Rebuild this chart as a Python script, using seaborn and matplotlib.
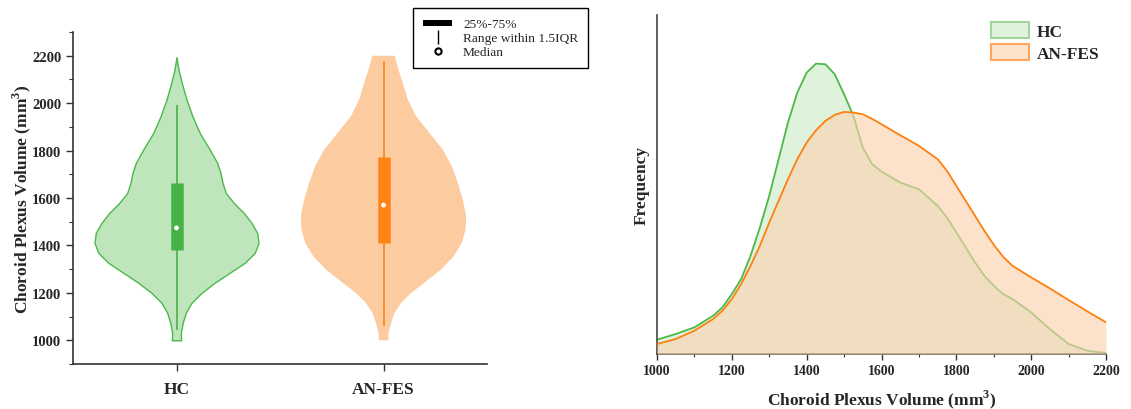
import numpy as np
import matplotlib
matplotlib.use("Agg")
import matplotlib.pyplot as plt
import seaborn as sns
from matplotlib.lines import Line2D
from matplotlib.patches import Patch
from matplotlib.ticker import MultipleLocator

# groups
grupos = ["HC", "AN-FES"]

# violin outlines: volume (mm3) and half width (px)
hc_vol = [1000, 1032, 1074, 1116, 1158, 1200, 1243, 1285, 1327, 1369, 1411, 1453,
          1495, 1537, 1579, 1621, 1664, 1706, 1748, 1804, 1874, 1944, 2015, 2085,
          2141, 2194]
hc_ancho = [4.6, 4.4, 6.2, 9.3, 15, 25, 38.3, 53.3, 68.3, 78.3, 82, 80.7,
            75, 67.3, 57.3, 49.3, 46, 44, 40.7, 33.3, 23.3, 16, 10, 5.3,
            2, 0]
an_vol = [1000, 1032, 1074, 1116, 1158, 1200, 1243, 1299, 1355, 1411, 1467, 1523,
          1593, 1664, 1734, 1804, 1874, 1944, 2015, 2085, 2141, 2200]
an_ancho = [4.7, 5.0, 7.7, 11, 17.7, 27.7, 41, 57.7, 70.3, 78.3, 82, 82.7,
            79.3, 74.3, 68.3, 59.3, 46, 32.7, 24.3, 19.3, 15, 11.2]

# box statistics
cuartil1 = [1380, 1410]
mediana = [1474, 1570]
cuartil3 = [1665, 1772]
bigote_min = [1043, 1060]
bigote_max = [1994, 2179]

# density curves (relative height)
dens_x = [1000, 1050, 1100, 1150, 1175, 1200, 1225, 1250, 1275, 1300, 1325, 1350,
          1375, 1400, 1425, 1450, 1475, 1500, 1525, 1550, 1575, 1600, 1650, 1700,
          1750, 1775, 1800, 1825, 1850, 1875, 1900, 1925, 1950, 2000, 2050, 2100,
          2150, 2200]
dens_hc = [43, 60, 80, 115, 140, 180, 225, 295, 380, 475, 585, 695,
           785, 845, 872, 870, 840, 780, 715, 620, 570, 548, 515, 495,
           445, 410, 365, 320, 275, 235, 205, 180, 165, 125, 75, 30,
           10, 3]
dens_an = [30, 45, 70, 105, 130, 165, 210, 265, 325, 395, 460, 525,
           585, 635, 672, 700, 718, 727, 725, 720, 706, 690, 657, 625,
           585, 550, 505, 460, 415, 370, 328, 292, 265, 230, 197, 162,
           128, 95]

verde = "#4cb84a"
verde_claro = "#bfe5bd"
naranja = "#ff7f0e"
naranja_claro = "#fccba0"

sns.set_style("ticks")
plt.rcParams["font.family"] = ["Liberation Serif", "DejaVu Serif"]
plt.rcParams["mathtext.fontset"] = "custom"
plt.rcParams["mathtext.rm"] = "Liberation Serif"
plt.rcParams["mathtext.bf"] = "Liberation Serif:bold"

fig = plt.figure(figsize=(11.31, 4.10), dpi=100)
ax1 = fig.add_axes([73 / 1131, 1 - 365 / 410, 414 / 1131, 332 / 410])
ax2 = fig.add_axes([657 / 1131, 1 - 355 / 410, 449 / 1131, 339 / 410])

# ---- violins ----
px_por_unidad = 207.0
perfiles = [(hc_vol, hc_ancho), (an_vol, an_ancho)]
rellenos = [verde_claro, naranja_claro]
bordes = [verde, "none"]
oscuros = ["#46b246", "#ff8418"]
for i, (vol, ancho) in enumerate(perfiles):
    w = np.array(ancho) / px_por_unidad
    ax1.fill_betweenx(vol, i - w, i + w, facecolor=rellenos[i],
                      edgecolor=bordes[i], linewidth=1.0, zorder=1)
    ax1.vlines(i, bigote_min[i], bigote_max[i], color=oscuros[i], lw=1.2, zorder=2)
    ax1.vlines(i, cuartil1[i], cuartil3[i], color=oscuros[i], lw=9,
               zorder=3, capstyle="butt")
sns.scatterplot(x=[0, 1], y=mediana, ax=ax1, color="white", s=12,
                edgecolor="none", zorder=4, legend=False)

ax1.set_xlim(-0.5, 1.5)
ax1.set_ylim(900, 2300)
ax1.set_xticks([0, 1])
ax1.set_xticklabels(grupos, fontsize=12.5, fontweight="bold")
ax1.yaxis.set_minor_locator(MultipleLocator(100))
ax1.set_yticks(range(1000, 2201, 200))
for t in ax1.get_yticklabels():
    t.set_fontweight("bold")
    t.set_fontsize(10.5)
ax1.set_ylabel("Choroid Plexus Volume (mm$^\\mathbf{3}$)", fontsize=12.5,
               fontweight="bold", labelpad=-1)
ax1.tick_params(axis="y", which="major", length=5, width=1, color="#333333")
ax1.tick_params(axis="y", which="minor", length=3, width=0.8, color="#333333")
ax1.tick_params(axis="x", length=5, width=1, color="#333333", pad=7)
for s in ["top", "right"]:
    ax1.spines[s].set_visible(False)
for s in ["left", "bottom"]:
    ax1.spines[s].set_color("#333333")
    ax1.spines[s].set_linewidth(1.2)

manejadores = [
    Line2D([], [], color="black", lw=4.3, solid_capstyle="butt"),
    Line2D([], [], color="black", marker="|", markersize=10, linestyle="none"),
    Line2D([], [], color="black", marker="o", markersize=4.5, markerfacecolor="white",
           markeredgewidth=1.5, linestyle="none"),
]
fig.legend(manejadores, ["25%-75%", "Range within 1.5IQR", "Median"],
           loc="upper left", bbox_to_anchor=(413 / 1131, 1 - 9 / 410),
           fontsize=9.6, frameon=True, fancybox=False, edgecolor="black",
           framealpha=1, handlelength=2.2, labelspacing=0.12,
           borderpad=0.75, handletextpad=0.8, borderaxespad=0)

# ---- density ----
sns.lineplot(x=dens_x, y=dens_hc, ax=ax2, color=verde, lw=1.3, zorder=2)
ax2.fill_between(dens_x, 0, dens_hc, color="#dff2dc", lw=0, zorder=1)
ax2.fill_between(dens_x, 0, dens_an, color="#fcd2ae", alpha=0.63, lw=0, zorder=3)
sns.lineplot(x=dens_x, y=dens_an, ax=ax2, color=naranja, lw=1.3, zorder=4)

ax2.set_xlim(1000, 2200)
ax2.set_ylim(0, 1018)
ax2.set_yticks([])
ax2.xaxis.set_major_locator(MultipleLocator(200))
ax2.xaxis.set_minor_locator(MultipleLocator(100))
for t in ax2.get_xticklabels():
    t.set_fontweight("bold")
    t.set_fontsize(10)
ax2.tick_params(axis="x", which="major", length=4, width=1, color="#333333", pad=3)
ax2.tick_params(axis="x", which="minor", length=2.5, width=0.8, color="#333333")
ax2.set_xlabel("Choroid Plexus Volume (mm$^\\mathbf{3}$)", fontsize=12.5,
               fontweight="bold", labelpad=8)
ax2.set_ylabel("Frequency", fontsize=12.5, fontweight="bold", labelpad=5)
for s in ["top", "right"]:
    ax2.spines[s].set_visible(False)
for s in ["left", "bottom"]:
    ax2.spines[s].set_color("#444444")
    ax2.spines[s].set_linewidth(1.2)

parches = [Patch(facecolor="#dff2dc", edgecolor="#9fd79b", lw=1.5),
           Patch(facecolor="#fde3cc", edgecolor="#ffa55a", lw=1.5)]
ax2.legend(parches, grupos, loc="upper right", bbox_to_anchor=(1.0, 1.0),
           frameon=False, prop={"weight": "bold", "size": 12.5},
           handlelength=2.2, handleheight=1.05, labelspacing=0.25,
           handletextpad=0.4, borderaxespad=0)

fig.savefig("out.png", dpi=100)
